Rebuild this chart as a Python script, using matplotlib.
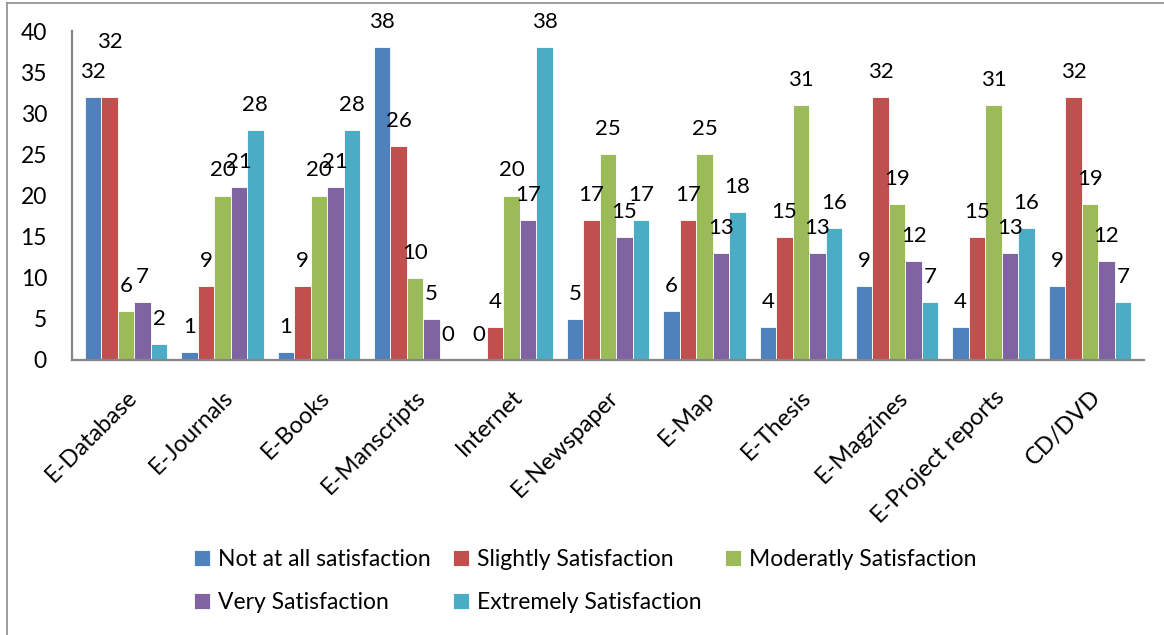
import matplotlib
matplotlib.use("Agg")
import matplotlib.pyplot as plt
import numpy as np
from matplotlib.lines import Line2D

plt.rcParams['font.family'] = ['Lato', 'DejaVu Sans']

categories = ["E-Database", "E-Journals", "E-Books", "E-Manscripts", "Internet",
              "E-Newspaper", "E-Map", "E-Thesis", "E-Magzines",
              "E-Project reports", "CD/DVD"]
series_names = ["Not at all satisfaction", "Slightly Satisfaction",
                "Moderatly Satisfaction", "Very Satisfaction",
                "Extremely Satisfaction"]
not_at_all = [32, 1, 1, 38, 0, 5, 6, 4, 9, 4, 9]
slightly = [32, 9, 9, 26, 4, 17, 17, 15, 32, 15, 32]
moderately = [6, 20, 20, 10, 20, 25, 25, 31, 19, 31, 19]
very = [7, 21, 21, 5, 17, 15, 13, 13, 12, 13, 12]
extremely = [2, 28, 28, 0, 38, 17, 18, 16, 7, 16, 7]
colours = ["#4F81BD", "#C0504D", "#9BBB59", "#8064A2", "#4BACC6"]

# label nudges (series index, category index) -> extra pixels up
label_nudge = {(1, 0): 30}

W, H = 1164, 635
fig = plt.figure(figsize=(W / 100, H / 100), dpi=100, facecolor="white")
ax = fig.add_axes([72 / W, (H - 360) / H, 1072 / W, 329 / H])

x = np.arange(len(categories))
bw = 0.171
data = [not_at_all, slightly, moderately, very, extremely]
handles = []
for i, (vals, name, col) in enumerate(zip(data, series_names, colours)):
    pos = x + (i - 2) * bw
    bars = ax.bar(pos, vals, width=bw, color=col, edgecolor="white",
                  linewidth=0.6, label=name, zorder=2)
    handles.append(bars)
    for j, (px, v) in enumerate(zip(pos, vals)):
        ax.annotate(str(v), (px, v), xytext=(0, 25 + label_nudge.get((i, j), 0)),
                    textcoords="offset pixels", ha="center", va="center",
                    fontsize=16, color="black", zorder=3)

ax.set_xlim(-0.56, len(categories) - 0.44)
ax.set_ylim(0, 40)
ax.set_yticks(range(0, 41, 5))
ax.set_xticks(x)
ax.set_xticklabels(categories, rotation=45, ha="right", rotation_mode="anchor",
                   fontsize=17)
ax.tick_params(axis="both", length=0)
ax.tick_params(axis="y", labelsize=16.5, pad=18)
ax.tick_params(axis="x", pad=19)
for s in ("top", "right"):
    ax.spines[s].set_visible(False)
for s in ("left", "bottom"):
    ax.spines[s].set_color("#868686")
    ax.spines[s].set_linewidth(1.6)

# legend filled row by row, like the original
order = [0, 3, 1, 4, 2]
fig.legend([handles[k] for k in order], [series_names[k] for k in order],
           loc="center", bbox_to_anchor=(585 / W, (H - 581) / H), ncol=3,
           frameon=False, fontsize=16.5, handlelength=0.7, handleheight=0.7,
           handletextpad=0.35, columnspacing=1.0, labelspacing=1.0)

# outer chart border
fig.add_artist(Line2D([7 / W, 7 / W], [0, 1 - 3 / H], color="#8c8c8c", lw=1.2,
                      transform=fig.transFigure))
fig.add_artist(Line2D([7 / W, 1], [1 - 3 / H, 1 - 3 / H], color="#8c8c8c", lw=1.2,
                      transform=fig.transFigure))

fig.savefig("out.png", dpi=100, facecolor="white")
